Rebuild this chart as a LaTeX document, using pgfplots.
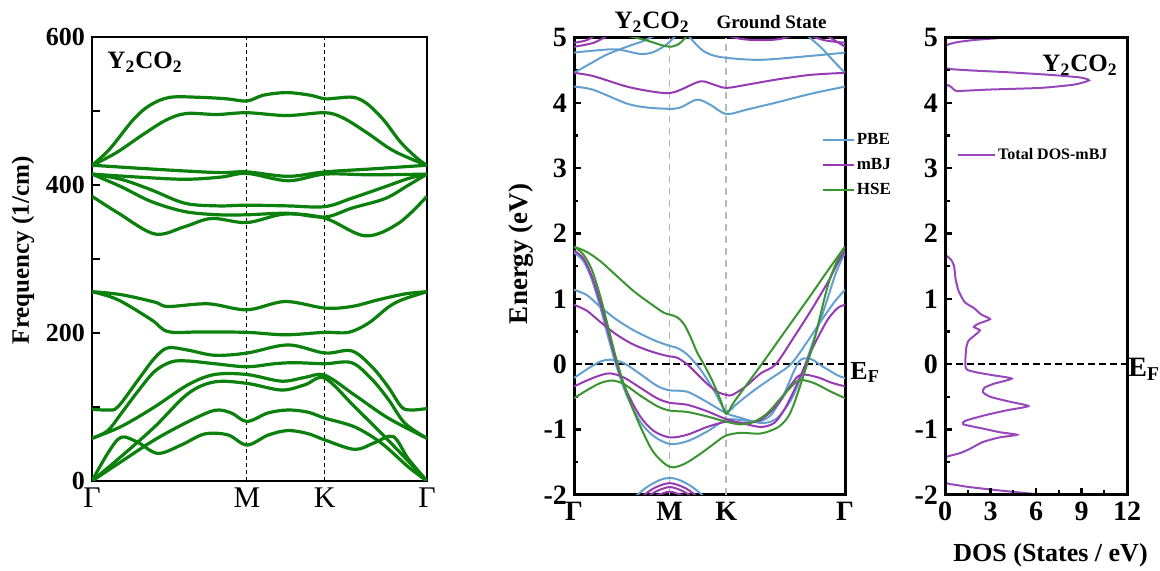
\documentclass[border=0pt]{standalone}
\usepackage{pgfplots}
\pgfplotsset{compat=1.18}
\usepackage{fontspec}
\setmainfont{Liberation Serif}
\definecolor{phon}{RGB}{12,128,12}
\definecolor{pbe}{RGB}{98,160,208}
\definecolor{mbj}{RGB}{150,58,178}
\definecolor{hse}{RGB}{58,148,48}
\definecolor{dosc}{RGB}{150,72,186}
\newcommand{\fs}[1]{\fontsize{#1}{#1}\selectfont}
\pgfplotsset{ph/.style={phon, line width=1.6pt, smooth, tension=0.55, no markers}}
\begin{document}
\begin{tikzpicture}
\path[use as bounding box] (0,0) rectangle (580pt,-285.5pt);
% ---------------- Left: phonon dispersion ----------------
\begin{axis}[
  at={(46pt,-18.65pt)}, anchor=north west,
  width=167.5pt, height=221.85pt, scale only axis,
  xmin=13, xmax=1016, ymin=0, ymax=600,
  axis line style={line width=1.1pt},
  xtick={13,1016}, xticklabels={Γ,Γ},
  xtick style={draw=none},
  extra x ticks={477,710}, extra x tick labels={M,K},
  extra x tick style={grid=major, tick style={draw=none}, major grid style={black, line width=0.5pt, dash pattern=on 2pt off 1.5pt}},
  xticklabel style={font=\fs{15}},
  ytick={0,100,...,600}, yticklabels={0,,200,,400,,600},
  ytick pos=left, tick align=inside, major tick length=4pt,
  ytick style={line width=1pt, black},
  yticklabel style={font=\fs{13}\bfseries},
  ylabel={Frequency (1/cm)},
  ylabel style={font=\fs{12.5}\bfseries, at={(axis description cs:-0.206,0.52)}, anchor=center},
  clip mode=individual,
]
\addplot[ph] coordinates {(13,426.7) (66,448.9) (136,488.3) (186,508) (246,518.8) (336,518.8) (416,516.8) (477,513.9) (526,521.7) (596,525.2) (666,521.7) (710,516.8) (746,517.8) (796,518.8) (836,510.4) (886,488.3) (936,458.7) (986,436.6) (1016,426.7)};
\addplot[ph] coordinates {(13,426.7) (86,444) (166,468.6) (236,488.3) (296,497) (386,495.6) (477,498) (596,494.2) (710,498) (766,490.7) (836,471) (916,446.4) (1016,426.7)};
\addplot[ph] coordinates {(13,427) (150,423) (300,419) (400,417) (477,418) (600,412) (710,418) (850,422) (1016,427)};
\addplot[ph] coordinates {(13,415) (150,411) (291,408) (400,411) (477,416) (600,406) (710,415) (850,414) (1016,415)};
\addplot[ph] coordinates {(13,415) (100,408) (191,393.6) (291,375.6) (391,372) (477,373) (600,372) (710,371) (791,382.4) (891,398) (960,409) (1016,415)};
\addplot[ph] coordinates {(13,415) (100,398) (191,377.8) (291,364.3) (391,360) (477,360) (600,362) (710,357) (791,369) (891,382) (960,400) (1016,415)};
\addplot[ph] coordinates {(13,385) (91,362.5) (201,334) (291,344) (371,355) (477,349.5) (591,361) (710,355.4) (831,331.5) (931,348.6) (1016,385)};
\addplot[ph] coordinates {(13,256) (100,252) (200,242) (241,236) (361,239.6) (477,231.5) (591,242.7) (710,233.8) (791,236) (870,245) (950,253) (1016,256)};
\addplot[ph] coordinates {(13,256) (91,245) (191,218) (241,202) (341,201.6) (477,201) (591,197.7) (710,201) (781,201) (841,213.5) (900,235) (941,245) (1016,256)};
\addplot[ph] coordinates {(13,97) (60,96) (90,100) (150,136) (200,166) (240,180) (300,177) (380,170) (477,173) (600,184) (710,173) (790,176) (850,155) (900,127) (940,100) (970,96) (1016,98)};
\addplot[ph] coordinates {(13,57.7) (60,68) (100,91) (150,121) (200,148) (250,161) (300,162.3) (380,158.6) (477,154.5) (560,158.6) (620,160) (710,158.6) (790,160) (850,138) (900,110.5) (950,78) (1016,57.7)};
\addplot[ph] coordinates {(13,57.7) (100,73.6) (200,100) (300,130) (380,144) (477,144) (580,135) (650,140) (710,143) (800,116) (900,85) (1016,57.7)};
\addplot[ph] coordinates {(13,0) (100,33) (200,73) (300,118) (380,134) (477,132) (580,123) (650,130) (710,139) (800,100) (900,55) (1016,0)};
\addplot[ph] coordinates {(13,0) (100,26) (200,55.5) (300,80) (380,95.5) (430,92) (477,80.5) (540,92) (600,96) (660,93) (710,85) (800,73) (880,51) (960,19) (1016,0)};
\addplot[ph] coordinates {(13,0) (60,37.3) (100,59.1) (150,52.3) (210,37.3) (280,48.6) (350,63.6) (420,62.3) (477,48.6) (540,62) (600,68.2) (660,64) (710,55.5) (800,42.7) (860,52) (915,60) (960,30) (1016,0)};
\node[anchor=north west, inner sep=0pt, font=\fs{12.5}\bfseries] at (rel axis cs:0.045,0.968) {Y\textsubscript{2}CO\textsubscript{2}};
\end{axis}
% ---------------- Middle: band structure ----------------
\begin{axis}[
  at={(287pt,-18.8pt)}, anchor=north west,
  width=135.5pt, height=228.65pt, scale only axis,
  xmin=42, xmax=852, ymin=-2, ymax=5,
  axis line style={line width=1.5pt},
  xtick={42,852}, xticklabels={Γ,Γ},
  xtick style={draw=none},
  extra x ticks={328,497}, extra x tick labels={M,K},
  extra x tick style={grid=major, tick style={draw=none}, major grid style={gray!55, line width=0.8pt, dash pattern=on 3.5pt off 2.5pt}},
  xticklabel style={font=\fs{14}\bfseries},
  ytick={-2,...,5}, yticklabels={-2,-1,0,1,2,3,4,5},
  minor ytick={-1.5,-0.5,...,4.5},
  ytick pos=left, tick align=inside, major tick length=3.5pt, minor tick length=2pt,
  ytick style={line width=1.2pt, black},
  minor tick style={line width=1.2pt, black},
  yticklabel style={font=\fs{14}\bfseries},
  ylabel={Energy (eV)},
  ylabel style={font=\fs{13.5}\bfseries, at={(axis description cs:-0.196,0.527)}, anchor=center},
  clip mode=individual,
  every axis plot/.append style={line width=1pt, smooth, tension=0.5},
  legend image code/.code={\draw[#1, line width=1pt] (0pt,0pt) -- (15.5pt,0pt);},
  legend cell align=left,
  legend style={at={(rel axis cs:0.913,0.721)}, anchor=west, draw=none, fill=none, inner sep=0pt, row sep=3.5pt, font=\fs{8.5}\bfseries, nodes={inner sep=1pt}},
]
\addlegendimage{pbe}\addlegendentry{PBE}
\addlegendimage{mbj}\addlegendentry{mBJ}
\addlegendimage{hse}\addlegendentry{HSE}
% E_F line
\addplot[black, line width=1.2pt, dash pattern=on 3.5pt off 2pt, forget plot] coordinates {(42,0) (852,0)};
% PBE
\addplot[pbe, forget plot] coordinates {(42,1.71) (70,1.58) (95,1.30) (120,0.88) (145,0.40) (170,-0.05) (200,-0.48) (240,-0.88) (280,-1.10) (328,-1.22) (380,-1.18) (440,-1.03) (497,-0.85) (550,-0.86) (610,-0.90) (650,-0.82) (690,-0.55) (720,-0.20) (750,0.25) (790,0.85) (825,1.40) (852,1.71)};
\addplot[pbe, forget plot] coordinates {(42,1.14) (80,1.06) (120,0.88) (170,0.68) (220,0.52) (280,0.37) (328,0.28) (350,0.25) (380,0.15) (420,-0.08) (460,-0.40) (497,-0.72) (530,-0.60) (580,-0.40) (630,-0.22) (690,0.0) (740,0.35) (780,0.66) (820,0.95) (852,1.14)};
\addplot[pbe, forget plot] coordinates {(42,-0.21) (80,-0.08) (120,0.04) (150,0.07) (190,0.02) (240,-0.15) (290,-0.33) (328,-0.40) (380,-0.42) (440,-0.58) (497,-0.75) (540,-0.82) (590,-0.88) (630,-0.78) (670,-0.45) (700,-0.10) (720,0.07) (750,0.08) (790,-0.05) (830,-0.17) (852,-0.21)};
\addplot[pbe, forget plot] coordinates {(42,4.25) (100,4.20) (200,3.99) (260,3.93) (328,3.91) (360,3.93) (410,4.05) (450,3.97) (497,3.83) (560,3.90) (650,4.01) (750,4.14) (852,4.25)};
\addplot[pbe, forget plot] coordinates {(42,4.46) (90,4.60) (140,4.74) (200,4.86) (250,4.95) (290,5.05)};
\addplot[pbe, forget plot] coordinates {(42,4.77) (100,4.80) (170,4.82) (240,4.75) (280,4.78) (320,4.90) (350,5.05)};
\addplot[pbe, forget plot] coordinates {(380,5.05) (420,4.83) (450,4.74) (497,4.69) (600,4.66) (750,4.72) (852,4.77)};
\addplot[pbe, forget plot] coordinates {(735,5.05) (780,4.85) (820,4.63) (852,4.46)};
\addplot[pbe, forget plot] coordinates {(220,-2.05) (260,-1.88) (300,-1.77) (328,-1.74) (356,-1.77) (396,-1.88) (436,-2.05)};
% mBJ
\addplot[mbj, forget plot] coordinates {(42,1.74) (70,1.62) (95,1.35) (120,0.95) (145,0.48) (170,0.0) (200,-0.42) (240,-0.80) (280,-1.02) (328,-1.12) (380,-1.08) (440,-0.96) (497,-0.88) (540,-0.90) (600,-0.96) (640,-0.90) (670,-0.70) (700,-0.40) (730,-0.05) (760,0.30) (800,0.68) (830,0.86) (852,0.91)};
\addplot[mbj, forget plot] coordinates {(42,0.91) (80,0.82) (120,0.65) (170,0.45) (220,0.30) (270,0.20) (310,0.14) (328,0.12) (350,0.10) (380,0.0) (410,-0.15) (440,-0.30) (470,-0.42) (497,-0.47) (515,-0.47) (555,-0.34) (600,-0.14) (645,0.0) (700,0.42) (750,0.82) (800,1.25) (830,1.55) (852,1.74)};
\addplot[mbj, forget plot] coordinates {(42,-0.34) (80,-0.25) (120,-0.17) (150,-0.14) (190,-0.20) (240,-0.36) (290,-0.52) (328,-0.59) (380,-0.62) (440,-0.72) (497,-0.84) (550,-0.90) (600,-0.85) (650,-0.62) (690,-0.32) (720,-0.16) (770,-0.20) (810,-0.28) (852,-0.34)};
\addplot[mbj, forget plot] coordinates {(42,4.46) (100,4.41) (200,4.25) (280,4.17) (328,4.15) (360,4.20) (420,4.33) (460,4.28) (497,4.23) (560,4.28) (650,4.36) (750,4.43) (852,4.46)};
\addplot[mbj, forget plot] coordinates {(42,4.92) (80,4.96) (110,5.05)};
\addplot[mbj, forget plot] coordinates {(42,4.86) (100,4.92) (150,5.05)};
\addplot[mbj, forget plot] coordinates {(490,5.05) (540,4.98) (600,4.96) (660,4.98) (700,5.05)};
\addplot[mbj, forget plot] coordinates {(740,5.05) (790,4.96) (852,4.92)};
\addplot[mbj, forget plot] coordinates {(790,5.05) (830,4.93) (852,4.86)};
\addplot[mbj, forget plot] coordinates {(240,-2.05) (280,-1.90) (328,-1.82) (376,-1.90) (416,-2.05)};
\addplot[mbj, forget plot] coordinates {(255,-2.05) (290,-1.94) (328,-1.88) (366,-1.94) (401,-2.05)};
\addplot[mbj, forget plot] coordinates {(270,-2.05) (300,-1.99) (328,-1.95) (356,-1.99) (386,-2.05)};
% HSE
\addplot[hse, forget plot] coordinates {(42,1.80) (70,1.68) (95,1.45) (120,1.05) (145,0.55) (170,0.05) (200,-0.45) (240,-0.95) (280,-1.35) (328,-1.57) (370,-1.53) (420,-1.37) (470,-1.18) (497,-1.09) (540,-1.05) (600,-1.06) (650,-0.97) (680,-0.82) (700,-0.60) (730,-0.14) (760,0.37) (800,1.19) (830,1.60) (852,1.80)};
\addplot[hse, forget plot] coordinates {(42,1.80) (80,1.72) (120,1.58) (170,1.35) (220,1.12) (270,0.93) (310,0.79) (328,0.76) (350,0.72) (370,0.62) (390,0.42) (410,0.18) (430,0.0) (455,-0.25) (480,-0.55) (497,-0.76) (520,-0.58) (560,-0.30) (600,-0.02) (650,0.34) (700,0.70) (750,1.06) (800,1.43) (852,1.80)};
\addplot[hse, forget plot] coordinates {(42,-0.52) (80,-0.40) (120,-0.29) (155,-0.25) (190,-0.30) (240,-0.48) (290,-0.64) (328,-0.71) (380,-0.73) (440,-0.80) (497,-0.88) (540,-0.92) (580,-0.88) (620,-0.75) (660,-0.52) (700,-0.30) (720,-0.24) (760,-0.29) (810,-0.42) (852,-0.52)};
\addplot[hse, forget plot] coordinates {(180,5.05) (250,4.97) (300,4.89) (328,4.86) (355,4.90) (385,5.05)};
\node[anchor=base west, inner sep=0pt, font=\fs{13}\bfseries] at (axis cs:852,-0.23) [xshift=2.5pt] {E\textsubscript{F}};
\node[anchor=base, inner sep=0pt, font=\fs{12.5}\bfseries] at (rel axis cs:0.288,1) [yshift=4.3pt] {Y\textsubscript{2}CO\textsubscript{2}};
\node[anchor=base, inner sep=0pt, font=\fs{9.5}\bfseries] at (rel axis cs:0.729,1) [yshift=4.5pt] {Ground State};
\end{axis}
% ---------------- Right: DOS ----------------
\begin{axis}[
  at={(472.5pt,-18.8pt)}, anchor=north west,
  width=91pt, height=228.65pt, scale only axis,
  xmin=0, xmax=12, ymin=-2, ymax=5,
  axis on top,
  axis line style={line width=1.5pt},
  xtick={0,3,...,12}, xticklabels={0,3,6,9,12},
  minor xtick={1.5,4.5,7.5,10.5},
  ytick={-2,...,5}, yticklabels={-2,-1,0,1,2,3,4,5},
  minor ytick={-1.5,-0.5,...,4.5},
  xtick pos=bottom, ytick pos=left, tick align=inside,
  major tick length=3.5pt, minor tick length=2.5pt,
  tick style={line width=1.2pt, black},
  minor tick style={line width=1.2pt, black},
  xticklabel style={font=\fs{14}\bfseries},
  yticklabel style={font=\fs{14}\bfseries},
  xlabel={DOS (States / eV)},
  xlabel style={font=\fs{13}\bfseries, at={(axis description cs:0.58,-0.133)}, anchor=center},
  clip mode=individual,
  legend image code/.code={\draw[#1, line width=1pt] (0pt,0pt) -- (18.5pt,0pt);},
  legend style={at={(rel axis cs:0.065,0.743)}, anchor=west, draw=none, fill=none, inner sep=0pt, font=\fs{8}\bfseries, nodes={inner sep=1pt}},
]
\addplot[black, line width=1.2pt, dash pattern=on 3.5pt off 2pt, forget plot] coordinates {(0,0) (12,0)};
\addplot[dosc, line width=1pt, smooth, tension=0.35] coordinates {
(9,-2.05) (6.5,-2.0) (3.5,-1.93) (1.6,-1.88) (0.8,-1.85) (0,-1.80) (0,-1.45) (0.2,-1.41) (1.0,-1.36) (1.6,-1.30) (2.5,-1.19) (3.6,-1.12) (4.75,-1.08) (3.6,-1.04) (2.4,-0.98) (1.2,-0.92) (1.3,-0.87) (2.0,-0.82) (3.0,-0.76) (4.2,-0.70) (5.5,-0.64) (4.2,-0.57) (3.0,-0.50) (2.5,-0.43) (2.6,-0.36) (3.2,-0.30) (4.4,-0.22) (3.2,-0.17) (2.2,-0.13) (1.5,-0.09) (1.35,-0.04) (1.35,0.10) (1.4,0.25) (1.55,0.36) (2.0,0.45) (2.3,0.52) (1.9,0.57) (2.2,0.62) (2.97,0.69) (2.4,0.76) (1.9,0.86) (1.3,0.95) (0.9,1.12) (0.7,1.3) (0.6,1.5) (0.4,1.6) (0.1,1.66) (0,1.68) (0,4.16) (0.8,4.18) (3.0,4.205) (6.3,4.23) (8.5,4.28) (9.5,4.345) (8.9,4.39) (6.9,4.43) (4.1,4.47) (1.9,4.495) (0.3,4.52) (0,4.56) (0,4.86) (0.15,4.89) (0.8,4.93) (2.0,4.965) (4.0,5.0) (6.0,5.04)};
\addlegendentry{Total DOS-mBJ}
\node[anchor=base west, inner sep=0pt, font=\fs{14}\bfseries] at (axis cs:12,-0.19) [xshift=0.5pt] {E\textsubscript{F}};
\node[anchor=north east, inner sep=0pt, font=\fs{12.5}\bfseries] at (rel axis cs:0.95,0.963) {Y\textsubscript{2}CO\textsubscript{2}};
\end{axis}
\end{tikzpicture}
\end{document}
